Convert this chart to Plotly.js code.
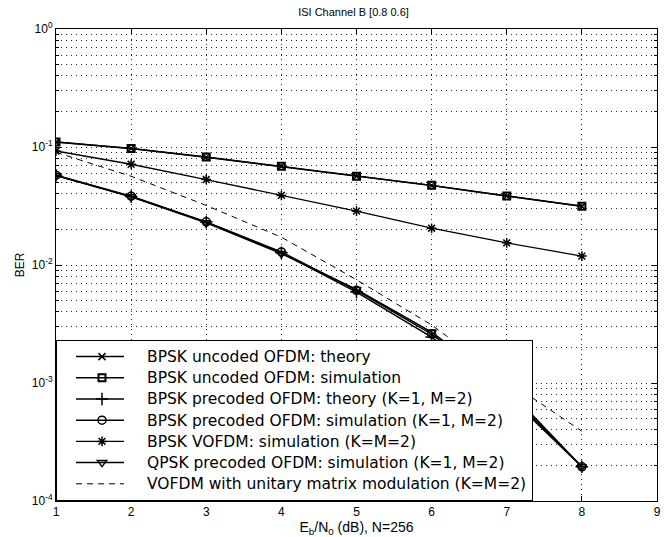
<!DOCTYPE html>
<html>
<head>
<meta charset="utf-8">
<script src="https://cdn.plot.ly/plotly-3.0.1.min.js"></script>
<style>
html,body{margin:0;padding:0;background:#fff;}
#chart{width:667px;height:537px;}
.legendtext{font-size:15.5px !important;}
#chart .legend .legendlines path{d:path("M19,0h48");}
</style>
</head>
<body>
<div id="chart"></div>
<script>
const ebn0 = [1, 2, 3, 4, 5, 6, 7, 8];
const uncodedTheory = [0.110, 0.0970, 0.0820, 0.0685, 0.0565, 0.0471, 0.0384, 0.0314];
const uncodedSim = [0.1105, 0.0972, 0.0823, 0.0686, 0.0566, 0.0473, 0.0385, 0.0315];
const precodedTheory = [0.0575, 0.0380, 0.0231, 0.0127, 0.0059, 0.00245, 0.00080, 0.000195];
const precodedSim = [0.0577, 0.0383, 0.0232, 0.0129, 0.0061, 0.00260, 0.00085, 0.000195];
const vofdmSim = [0.0925, 0.0714, 0.0530, 0.0389, 0.0286, 0.0205, 0.0154, 0.0119];
const qpskSim = [0.0573, 0.0378, 0.0228, 0.0125, 0.0062, 0.00270, 0.00090, 0.000195];
const unitaryMod = [0.0902, 0.0565, 0.0320, 0.0172, 0.0075, 0.0031, 0.00105, 0.00039];

const seriesNames = [
  'BPSK uncoded OFDM: theory',
  'BPSK uncoded OFDM: simulation',
  'BPSK precoded OFDM: theory (K=1, M=2)',
  'BPSK precoded OFDM: simulation (K=1, M=2)',
  'BPSK VOFDM: simulation (K=M=2)',
  'QPSK precoded OFDM: simulation (K=1, M=2)',
  'VOFDM with unitary matrix modulation (K=M=2)'
];

const yTickVals = [1, 0.1, 0.01, 0.001, 0.0001];
const yTickText = ['10<sup>0</sup>', '10<sup>-1</sup>', '10<sup>-2</sup>', '10<sup>-3</sup>', '10<sup>-4</sup>'];
const xTickVals = [1, 2, 3, 4, 5, 6, 7, 8, 9];

const FONT = 'Liberation Sans, Arial, Helvetica, sans-serif';
const LEGFONT = 'DejaVu Sans, Liberation Sans, sans-serif';

function tr(y, name, symbol, msize, lw, dash, mlw) {
  const t = {
    x: ebn0, y: y, name: name, type: 'scatter',
    mode: symbol ? 'lines+markers' : 'lines',
    line: {color: '#000', width: lw, dash: dash || 'solid'}
  };
  if (symbol) t.marker = {symbol: symbol, size: msize, color: '#000', line: {color: '#000', width: mlw || 1.5}};
  return t;
}

const data = [
  tr(uncodedTheory, seriesNames[0], 'x-thin-open', 7, 1.5),
  tr(uncodedSim, seriesNames[1], 'square-open', 7, 1.5, null, 2),
  tr(precodedTheory, seriesNames[2], 'cross-thin-open', 9, 1.5),
  tr(precodedSim, seriesNames[3], 'circle-open', 8, 1.5),
  tr(vofdmSim, seriesNames[4], 'asterisk-open', 8, 1.3),
  tr(qpskSim, seriesNames[5], 'triangle-down-open', 8, 1.5),
  tr(unitaryMod, seriesNames[6], null, 0, 1, '6px,5px')
];

const layout = {
  width: 667, height: 537,
  margin: {l: 56, r: 10, t: 29, b: 36},
  paper_bgcolor: '#fff', plot_bgcolor: '#fff',
  font: {family: FONT, color: '#000', size: 12},
  title: {text: 'ISI Channel B [0.8 0.6]', font: {size: 11, family: FONT}, x: 0.53, xanchor: 'center', y: 0.985, yanchor: 'top'},
  xaxis: {
    range: [1, 9], tickvals: xTickVals, ticks: 'inside', ticklen: 5, tickcolor: '#000',
    showline: true, linecolor: '#000', linewidth: 1, mirror: 'ticks',
    showgrid: true, gridcolor: '#222', griddash: '1px,4px', gridwidth: 1,
    zeroline: false, tickfont: {size: 12},
    title: {text: 'E<sub>b</sub>/N<sub>0</sub> (dB), N=256', font: {size: 14}, standoff: 2}
  },
  yaxis: {
    type: 'log', range: [-4, 0], tickvals: yTickVals, ticktext: yTickText,
    ticks: 'inside', ticklen: 5, tickcolor: '#000',
    showline: true, linecolor: '#000', linewidth: 1, mirror: 'ticks',
    showgrid: true, gridcolor: '#222', griddash: '1px,4px', gridwidth: 1,
    zeroline: false, tickfont: {size: 12},
    minor: {dtick: 'D1', showgrid: true, gridcolor: '#222', griddash: '1px,4px', gridwidth: 1, ticks: 'inside', ticklen: 3, tickcolor: '#000'},
    title: {text: 'BER', font: {size: 12}, standoff: 4}
  },
  showlegend: true,
  legend: {
    x: 0, y: 0, xanchor: 'left', yanchor: 'bottom',
    bgcolor: '#fff', bordercolor: '#000', borderwidth: 1,
    font: {size: 14, family: LEGFONT}, itemwidth: 80, tracegroupgap: 0
  }
};

Plotly.newPlot('chart', data, layout, {displayModeBar: false, staticPlot: true});
</script>
</body>
</html>
